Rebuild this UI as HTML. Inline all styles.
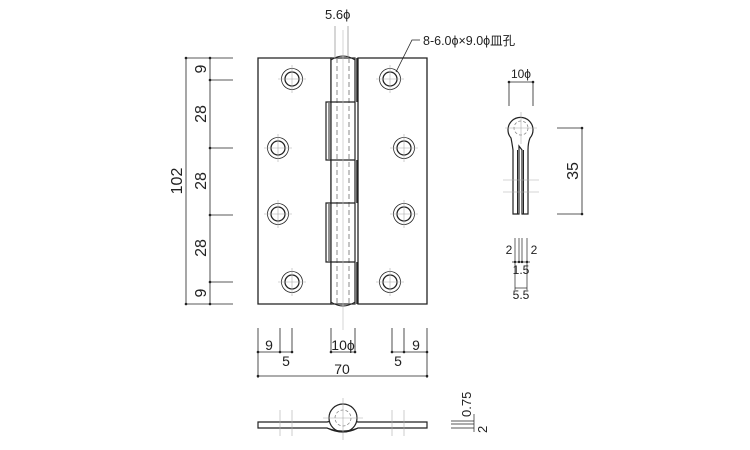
<!DOCTYPE html>
<html><head><meta charset="utf-8"><style>
html,body{margin:0;padding:0;background:#fff;}
svg{display:block;}
text{font-family:"Liberation Sans","Noto Sans CJK JP",sans-serif;fill:#222;}
</style></head><body>
<svg width="750" height="450" viewBox="0 0 750 450" xmlns="http://www.w3.org/2000/svg">
<defs>
<g id="h">
<circle r="10.5" fill="none" stroke="#222" stroke-width="0.8"/><circle r="7" fill="none" stroke="#222" stroke-width="1.3"/>
<line x1="-14" y1="0" x2="14" y2="0" stroke="#aaa" stroke-width="0.6"/>
<line x1="0" y1="-14" x2="0" y2="14" stroke="#aaa" stroke-width="0.6"/>
</g>
</defs>
<g stroke="#222" fill="none" stroke-width="1">
<path d="M258,58 H331 V304 H258 Z" stroke-width="1.3"/>
<path d="M358,58 H427 V304 H358 Z" stroke-width="1.3"/>
<rect x="331" y="58" width="24" height="246" fill="#fff" stroke-width="1.2"/>
<path d="M331,60 Q343,52 355,60" />
<path d="M331,302 Q343,310 355,302" />
<line x1="337" y1="58" x2="337" y2="304" stroke="#888" stroke-dasharray="5,3"/>
<line x1="349" y1="58" x2="349" y2="304" stroke="#888" stroke-dasharray="5,3"/>
<path d="M355,102 H326 V160 H355" stroke-width="1.2"/>
<line x1="329" y1="103" x2="329" y2="159"/>
<path d="M355,203 H326 V262 H355" stroke-width="1.2"/>
<line x1="329" y1="204" x2="329" y2="261"/>
<line x1="357" y1="58" x2="357" y2="102" stroke-width="1.5"/>
<line x1="357" y1="160" x2="357" y2="203" stroke-width="1.5"/>
<line x1="357" y1="262" x2="357" y2="304" stroke-width="1.5"/>
</g>
<use href="#h" x="292" y="79"/><use href="#h" x="278" y="148"/><use href="#h" x="278" y="214"/><use href="#h" x="292" y="282"/>
<use href="#h" x="390" y="79"/><use href="#h" x="404" y="148"/><use href="#h" x="404" y="214"/><use href="#h" x="390" y="282"/>

<g stroke="#999" stroke-width="0.8">
<line x1="335" y1="26" x2="335" y2="58"/><line x1="348" y1="26" x2="348" y2="58"/>
<line x1="343" y1="30" x2="343" y2="330" stroke="#bbb" stroke-width="0.6"/>
</g>
<text x="325" y="19" font-size="13">5.6ϕ</text>
<polyline points="396,72 412,40 420,40" stroke="#222" fill="none" stroke-width="0.8"/>
<text x="423" y="45" font-size="12.5">8-6.0ϕ×9.0ϕ皿孔</text>

<g stroke="#222" stroke-width="0.8">
<line x1="186" y1="58" x2="186" y2="304"/>
<line x1="210" y1="58" x2="210" y2="304"/>
<line x1="186" y1="58" x2="233" y2="58"/><line x1="186" y1="304" x2="233" y2="304"/>
<line x1="210" y1="80" x2="233" y2="80"/><line x1="210" y1="148" x2="233" y2="148"/>
<line x1="210" y1="215" x2="233" y2="215"/><line x1="210" y1="282" x2="233" y2="282"/>
</g>
<g fill="#222"><circle cx="210" cy="80" r="1.3"/><circle cx="210" cy="148" r="1.3"/><circle cx="210" cy="215" r="1.3"/><circle cx="210" cy="282" r="1.3"/><circle cx="186" cy="58" r="1.3"/><circle cx="186" cy="304" r="1.3"/><circle cx="210" cy="58" r="1.3"/><circle cx="210" cy="304" r="1.3"/></g>
<g font-size="16" text-anchor="middle">
<text transform="translate(206,69) rotate(-90)">9</text>
<text transform="translate(206,114) rotate(-90)">28</text>
<text transform="translate(206,181) rotate(-90)">28</text>
<text transform="translate(206,248) rotate(-90)">28</text>
<text transform="translate(206,293) rotate(-90)">9</text>
<text transform="translate(182,181) rotate(-90)">102</text>
</g>

<g stroke="#222" stroke-width="0.8">
<line x1="258" y1="328" x2="258" y2="378"/><line x1="280" y1="328" x2="280" y2="352"/><line x1="292" y1="328" x2="292" y2="352"/>
<line x1="331" y1="328" x2="331" y2="352"/><line x1="355" y1="328" x2="355" y2="352"/>
<line x1="392" y1="328" x2="392" y2="352"/><line x1="404" y1="328" x2="404" y2="352"/><line x1="427" y1="328" x2="427" y2="378"/>
<line x1="258" y1="352" x2="292" y2="352"/><line x1="331" y1="352" x2="355" y2="352"/><line x1="392" y1="352" x2="427" y2="352"/>
<line x1="258" y1="376" x2="427" y2="376"/>
</g>
<g fill="#222"><circle cx="258" cy="352" r="1.3"/><circle cx="280" cy="352" r="1.3"/><circle cx="292" cy="352" r="1.3"/><circle cx="331" cy="352" r="1.3"/><circle cx="355" cy="352" r="1.3"/><circle cx="392" cy="352" r="1.3"/><circle cx="404" cy="352" r="1.3"/><circle cx="427" cy="352" r="1.3"/><circle cx="258" cy="376" r="1.3"/><circle cx="427" cy="376" r="1.3"/></g>
<g font-size="14" text-anchor="middle">
<text x="269" y="350">9</text><text x="286" y="366">5</text><text x="343" y="350">10ϕ</text>
<text x="398" y="366">5</text><text x="416" y="350">9</text><text x="342" y="374">70</text>
</g>

<g stroke="#222" fill="none">
<path d="M258,422 H327 Q343,418 358,422 H427 V428 H358 Q343,436 327,428 H258 Z" stroke-width="1.2" fill="#fff"/>
<circle cx="343" cy="418" r="14" stroke-width="1.2" fill="#fff"/>
<circle cx="343" cy="418" r="8" stroke="#888" stroke-dasharray="3,2" stroke-width="0.8"/>
<path d="M327,428 Q343,434 358,428" stroke-width="1"/>
<g stroke="#aaa" stroke-width="0.6">
<line x1="343" y1="398" x2="343" y2="440"/><line x1="323" y1="418" x2="363" y2="418"/>
<line x1="280" y1="410" x2="280" y2="436"/><line x1="292" y1="410" x2="292" y2="436"/>
<line x1="392" y1="410" x2="392" y2="436"/><line x1="404" y1="410" x2="404" y2="436"/>
</g>
</g>
<g stroke="#222" stroke-width="0.7">
<line x1="451" y1="421" x2="474" y2="421"/><line x1="451" y1="424" x2="474" y2="424"/><line x1="451" y1="428" x2="474" y2="428"/>
<line x1="474" y1="414" x2="474" y2="432"/>
</g>
<text transform="translate(471,417) rotate(-90)" font-size="13">0.75</text>
<text transform="translate(487,433) rotate(-90)" font-size="13">2</text>

<g stroke="#222" fill="none">
<line x1="509" y1="82" x2="533" y2="82" stroke-width="0.8"/>
<line x1="509" y1="82" x2="509" y2="106" stroke-width="0.8"/><line x1="533" y1="82" x2="533" y2="106" stroke-width="0.8"/>
<path d="M513,214 V150 Q512,143 511,138 A12.5,12.5 0 1 1 530,138 Q528,143 528,150 V214 H522 V150 L519,146 V214 Z" stroke-width="1.2" fill="#fff"/>
<line x1="517.5" y1="150" x2="517.5" y2="214" stroke-width="1"/>
<line x1="523.5" y1="150" x2="523.5" y2="214" stroke-width="1"/>
<circle cx="521" cy="128" r="7" stroke="#888" stroke-dasharray="3,2" stroke-width="0.8"/>
<g stroke="#aaa" stroke-width="0.6">
<line x1="505" y1="128" x2="537" y2="128"/><line x1="521" y1="112" x2="521" y2="144"/>
<line x1="503" y1="180" x2="539" y2="180"/><line x1="503" y1="192" x2="539" y2="192"/>
</g>
<line x1="557" y1="128" x2="582" y2="128" stroke-width="0.8"/>
<line x1="557" y1="214" x2="582" y2="214" stroke-width="0.8"/>
<line x1="582" y1="128" x2="582" y2="214" stroke-width="0.8"/>
<g stroke-width="0.7">
<line x1="515" y1="238" x2="515" y2="290"/><line x1="519" y1="238" x2="519" y2="262"/>
<line x1="522" y1="238" x2="522" y2="262"/><line x1="527" y1="238" x2="527" y2="290"/>
<line x1="512" y1="262" x2="530" y2="262"/><line x1="515" y1="288" x2="527" y2="288"/>
</g>
</g>
<g fill="#222"><circle cx="509" cy="82" r="1.3"/><circle cx="533" cy="82" r="1.3"/><circle cx="582" cy="128" r="1.3"/><circle cx="582" cy="214" r="1.3"/><circle cx="515" cy="262" r="1.2"/><circle cx="519" cy="262" r="1.2"/><circle cx="522" cy="262" r="1.2"/><circle cx="527" cy="262" r="1.2"/></g>
<g font-size="12" text-anchor="middle">
<text x="521" y="78">10ϕ</text>
<text x="509" y="254">2</text><text x="534" y="254">2</text>
<text x="521" y="274">1.5</text><text x="521" y="299">5.5</text>
</g>
<text transform="translate(578,171) rotate(-90)" font-size="16" text-anchor="middle">35</text>
</svg>
</body></html>
